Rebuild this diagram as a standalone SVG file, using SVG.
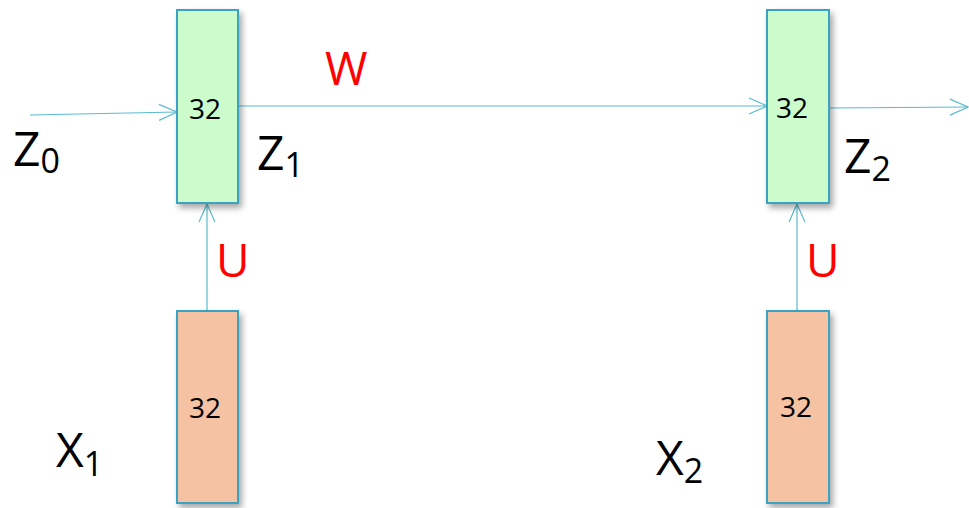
<svg xmlns="http://www.w3.org/2000/svg" width="969" height="508" viewBox="0 0 969 508">
<style>
.box{stroke:#3ba3c2;stroke-width:2}
.g{fill:#ccfccc}
.o{fill:#f5c3a3}
.num{font-family:"Open Sans","DejaVu Sans",sans-serif;font-size:28px;fill:#000;text-anchor:middle}
.lbl{font-family:"Open Sans","DejaVu Sans",sans-serif;font-size:48px;fill:#000}
.sub{font-size:34px}
.red{font-family:"Open Sans","DejaVu Sans",sans-serif;font-size:46px;fill:#ff0000}
.ln{stroke:#5bbbd0;stroke-width:1.2;fill:none}
</style>
<defs>
<filter id="sh" x="-20%" y="-10%" width="150%" height="130%">
<feGaussianBlur in="SourceAlpha" stdDeviation="3"/>
<feOffset dx="3" dy="4" result="b"/>
<feComponentTransfer><feFuncA type="linear" slope="0.35"/></feComponentTransfer>
<feMerge><feMergeNode/><feMergeNode in="SourceGraphic"/></feMerge>
</filter>
<marker id="ah" viewBox="0 0 20 20" refX="19" refY="10" markerWidth="20" markerHeight="20" markerUnits="userSpaceOnUse" orient="auto">
<path d="M1,2 L19,10 L1,18" fill="none" stroke="#5bbbd0" stroke-width="1.2"/>
</marker>
</defs>
<g id="connectors">
<line class="ln" x1="30" y1="115" x2="177" y2="112" marker-end="url(#ah)"/>
<line class="ln" x1="238" y1="106" x2="767" y2="106" marker-end="url(#ah)"/>
<line class="ln" x1="830" y1="108" x2="968" y2="107" marker-end="url(#ah)"/>
<line class="ln" x1="207" y1="311" x2="207" y2="204" marker-end="url(#ah)"/>
<line class="ln" x1="797" y1="311" x2="797" y2="204" marker-end="url(#ah)"/>
</g>
<g id="z1">
<rect class="box g" x="177" y="10" width="61" height="193" filter="url(#sh)"/>
<text class="num" x="205" y="119">32</text>
</g>
<g id="z2">
<rect class="box g" x="767" y="10" width="62" height="193" filter="url(#sh)"/>
<text class="num" x="792" y="118">32</text>
</g>
<g id="x1">
<rect class="box o" x="177" y="311" width="61" height="192" filter="url(#sh)"/>
<text class="num" x="205" y="418">32</text>
</g>
<g id="x2">
<rect class="box o" x="767" y="311" width="62" height="192" filter="url(#sh)"/>
<text class="num" x="796" y="417">32</text>
</g>
<g id="labels">
<text class="lbl" x="13" y="166">Z<tspan class="sub" dy="7">0</tspan></text>
<text class="lbl" x="257" y="170">Z<tspan class="sub" dy="7">1</tspan></text>
<text class="lbl" x="844" y="173">Z<tspan class="sub" dy="8">2</tspan></text>
<text class="lbl" x="56" y="467">X<tspan class="sub" dy="9">1</tspan></text>
<text class="lbl" x="656" y="475">X<tspan class="sub" dy="8">2</tspan></text>
<text class="red" x="325" y="85">W</text>
<text class="red" x="216" y="277">U</text>
<text class="red" x="806" y="277">U</text>
</g>
</svg>
